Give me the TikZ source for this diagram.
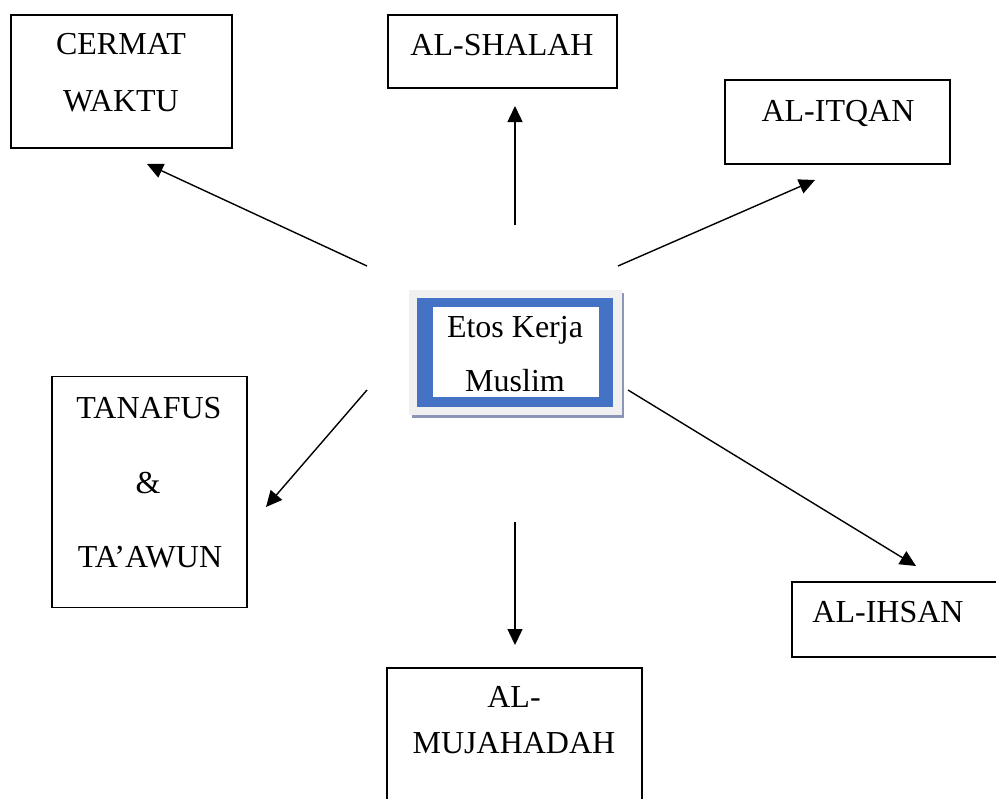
\documentclass[tikz,border=0pt]{standalone}
\usepackage{fontspec}
\setmainfont{Liberation Serif}
\usetikzlibrary{arrows.meta}
\definecolor{frameblue}{HTML}{4472C4}
\definecolor{framegray}{HTML}{F0F0F0}
\definecolor{shadowgray}{HTML}{8C96B4}
\tikzset{
  box/.style={draw=black, line width=1.4pt, inner sep=0pt},
  lbl/.style={anchor=base, inner sep=0pt, font=\fontsize{32}{38}\selectfont},
  conn/.style={line width=1.4pt, -{Triangle[length=16pt,width=15pt]}}
}
\begin{document}
\begin{tikzpicture}[x=1pt,y=-1pt]
\useasboundingbox (0,0) rectangle (996,798);
% boxes
\node[box, minimum width=221pt, minimum height=133pt] (cw) at (121.5,81.5) {};
\node[box, minimum width=229pt, minimum height=73pt] (sh) at (502.5,51.5) {};
\node[box, minimum width=225pt, minimum height=84pt] (it) at (837.5,122) {};
\node[box, minimum width=195pt, minimum height=231pt] (tt) at (149.5,492) {};
\node[box, minimum width=220pt, minimum height=75pt] (ih) at (902,619.5) {};
\node[box, minimum width=255pt, minimum height=150pt] (mj) at (514.5,743) {};
% central node
\fill[shadowgray] (412,415) rectangle (624,418);
\fill[shadowgray] (622,293) rectangle (624,418);
\node[fill=framegray, minimum width=213pt, minimum height=125pt, inner sep=0pt] (ctr) at (515.5,352.5) {};
\node[fill=frameblue, minimum width=196pt, minimum height=109pt, inner sep=0pt] (ctrb) at (515,352.5) {};
\node[fill=white, minimum width=166pt, minimum height=90pt, inner sep=0pt] (ctrw) at (516,352) {};
% texts
\node[lbl] (t1) at (121,54) {CERMAT};
\node[lbl] (t2) at (121,111) {WAKTU};
\node[lbl] (t3) at (502,55) {AL-SHALAH};
\node[lbl] (t4) at (838,121) {AL-ITQAN};
\node[lbl] (t5) at (515,337) {Etos Kerja};
\node[lbl] (t6) at (515,391) {Muslim};
\node[lbl] (t7) at (149,418) {TANAFUS};
\node[lbl] (t8) at (148,493) {\&};
\node[lbl] (t9) at (150,567) {TA’AWUN};
\node[lbl] (t10) at (888,622) {AL-IHSAN};
\node[lbl] (t11) at (514,707) {AL-};
\node[lbl] (t12) at (514,753) {MUJAHADAH};
% arrow ends
\coordinate (a1s) at (367,266); \coordinate (a1e) at (147,164);
\coordinate (a2s) at (515,225); \coordinate (a2e) at (515,106);
\coordinate (a3s) at (618,266); \coordinate (a3e) at (815,180);
\coordinate (a4s) at (367,390); \coordinate (a4e) at (266,507);
\coordinate (a5s) at (515,522); \coordinate (a5e) at (515,645);
\coordinate (a6s) at (628,390); \coordinate (a6e) at (916,566);
\draw[conn] (a1s) -- (a1e);
\draw[conn] (a2s) -- (a2e);
\draw[conn] (a3s) -- (a3e);
\draw[conn] (a4s) -- (a4e);
\draw[conn] (a5s) -- (a5e);
\draw[conn] (a6s) -- (a6e);
\end{tikzpicture}
\end{document}
